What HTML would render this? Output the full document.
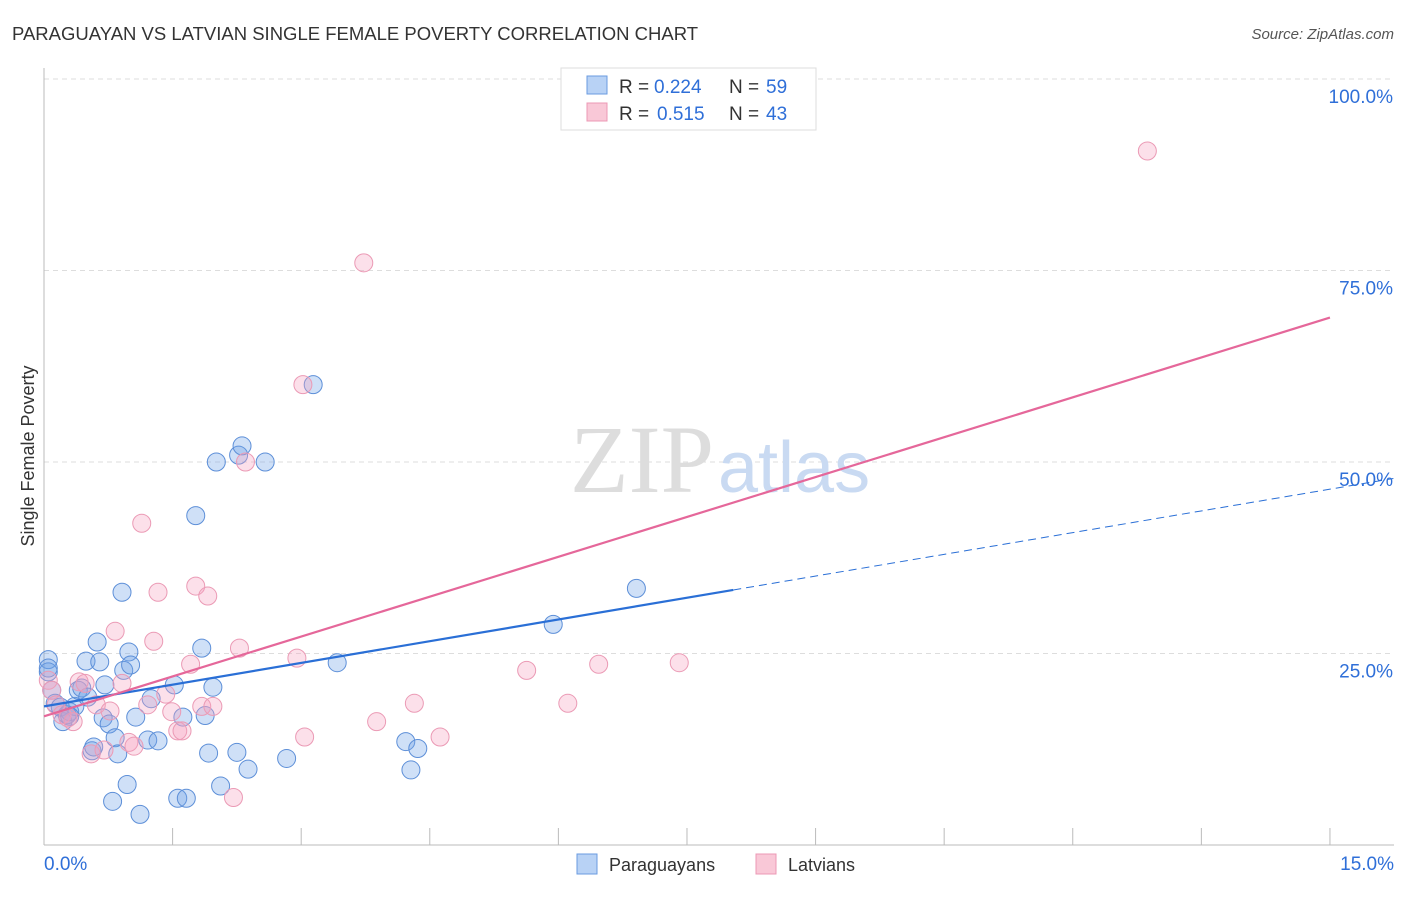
<!DOCTYPE html>
<html><head><meta charset="utf-8"><style>
body{margin:0;background:#fff;font-family:"Liberation Sans",sans-serif}
</style></head><body>
<svg width="1406" height="892" viewBox="0 0 1406 892" xmlns="http://www.w3.org/2000/svg">
<text x="12" y="40" font-size="18.5" fill="#333">PARAGUAYAN VS LATVIAN SINGLE FEMALE POVERTY CORRELATION CHART</text>
<text x="1394" y="39" font-size="15" fill="#555" text-anchor="end" font-style="italic">Source: ZipAtlas.com</text>
<g id="grid"></g>
<text x="714" y="492" font-size="96" fill="#ddd" text-anchor="end" font-family="Liberation Serif">ZIP</text>
<text x="718" y="492" font-size="72" fill="#c9daf2">atlas</text>
<g id="axes"></g>
<g id="marks"></g>
<text x="34" y="456" font-size="18" fill="#333" transform="rotate(-90 34 456)" text-anchor="middle">Single Female Poverty</text>
<g>
<rect x="561" y="68" width="255" height="62" fill="#fff" stroke="#ddd"/>
<rect x="587" y="76" width="20" height="18" fill="#b8d2f5" stroke="#6a9be0"/>
<rect x="587" y="103" width="20" height="18" fill="#f9c8d7" stroke="#ec98b4"/>
<text x="619" y="93" font-size="19" fill="#333">R =</text>
<text x="654" y="93" font-size="19" fill="#2f6fd8">0.224</text>
<text x="729" y="93" font-size="19" fill="#333">N =</text>
<text x="766" y="93" font-size="19" fill="#2f6fd8">59</text>
<text x="619" y="120" font-size="19" fill="#333">R =</text>
<text x="657" y="120" font-size="19" fill="#2f6fd8">0.515</text>
<text x="729" y="120" font-size="19" fill="#333">N =</text>
<text x="766" y="120" font-size="19" fill="#2f6fd8">43</text>
</g>
<g>
<rect x="577" y="854" width="20" height="20" fill="#b8d2f5" stroke="#6a9be0"/>
<text x="609" y="871" font-size="18" fill="#333">Paraguayans</text>
<rect x="756" y="854" width="20" height="20" fill="#f9c8d7" stroke="#ec98b4"/>
<text x="788" y="871" font-size="18" fill="#333">Latvians</text>
</g>
</svg>
<script>
const blueX=[0.05,0.05,0.09,0.13,0.19,0.22,0.27,0.3,0.36,0.4,0.44,0.49,0.51,0.56,0.58,0.62,0.65,0.69,0.71,0.76,0.8,0.83,0.86,0.91,0.93,0.97,0.99,1.01,1.07,1.12,1.21,1.25,1.33,1.52,1.56,1.62,1.66,1.77,1.84,1.88,1.92,1.97,2.01,2.06,2.25,2.27,2.31,2.38,2.58,2.83,3.14,3.42,4.22,4.28,4.36,5.94,6.91,0.05,0.3];
const blueY=[24.2,22.6,20.2,18.5,18.0,16.1,17.0,17.4,18.1,20.2,20.5,24.0,19.3,12.3,12.8,26.5,23.9,16.6,20.9,15.8,5.7,14.0,11.9,33.0,22.8,7.9,25.2,23.5,16.7,4.0,13.7,19.1,13.6,20.9,6.1,16.7,6.1,43.0,25.7,16.9,12.0,20.6,50.0,7.7,12.1,50.9,52.1,9.9,50.0,11.3,60.1,23.8,13.5,9.8,12.6,28.8,33.5,23.1,16.8];
const pinkX=[0.05,0.09,0.14,0.21,0.28,0.34,0.41,0.48,0.55,0.61,0.7,0.77,0.83,0.91,0.99,1.05,1.14,1.21,1.28,1.33,1.42,1.49,1.56,1.61,1.71,1.77,1.84,1.91,1.97,2.21,2.28,2.35,2.95,3.02,3.04,3.73,3.88,4.32,4.62,5.63,6.11,6.47,7.41,12.87];
const pinkY=[21.5,20.2,18.3,17.0,16.6,16.1,21.3,21.1,11.9,18.3,12.4,17.5,27.9,21.1,13.4,12.9,42.0,18.3,26.6,33.0,19.7,17.4,14.9,14.9,23.6,33.8,18.1,32.5,18.1,6.2,25.7,50.0,24.4,60.1,14.1,76.0,16.1,18.5,14.1,22.8,18.5,23.6,23.8,90.6];
const blueTrend=[18.1,1.89], pinkTrend=[16.8,3.47];
const xTicks=[0,1.5,3,4.5,6,7.5,9,10.5,12,13.5,15];
const yTicks=[25,50,75,100];
const NS='http://www.w3.org/2000/svg';
const sx=v=>44+v*85.73, sy=v=>845-v*7.66;
function mk(t,a,p){const e=document.createElementNS(NS,t);for(const k in a)e.setAttribute(k,a[k]);document.getElementById(p).appendChild(e);return e;}
yTicks.forEach(v=>{
 const l=mk('line',{x1:44,x2:1394,y1:sy(v),y2:sy(v),stroke:'#ddd','stroke-dasharray':'5,4'},'grid');
 
 
 const t=mk('text',{x:1393,y:sy(v)+24,'font-size':19,fill:'#2f6fd8','text-anchor':'end'},'grid');
 t.textContent=v.toFixed(1)+'%';
 
 
});
const ax=mk('line',{x1:44,x2:1394,y1:845,y2:845,stroke:'#bbb'},'axes');


const ay=mk('line',{x1:44,x2:44,y1:68,y2:845,stroke:'#bbb'},'axes');


xTicks.forEach((v,i)=>{if(i==0)return;
 const l=mk('line',{x1:sx(v),x2:sx(v),y1:828,y2:845,stroke:'#bbb'},'axes');
 
 
});
[[0,'start',44],[15,'end',1394]].forEach(([v,a,x])=>{
 const t=mk('text',{x:x,y:870,'font-size':19,fill:'#2f6fd8','text-anchor':a},'axes');
 t.textContent=v.toFixed(1)+'%';
 
 
});
blueX.forEach((x,i)=>{
 const c=mk('circle',{cx:sx(x),cy:sy(blueY[i]),r:9,fill:'rgba(110,160,230,0.33)',stroke:'#5d8fd8','stroke-width':1},'marks');
 
 
});
pinkX.forEach((x,i)=>{
 const c=mk('circle',{cx:sx(x),cy:sy(pinkY[i]),r:9,fill:'rgba(245,160,190,0.33)',stroke:'#eb9ab5','stroke-width':1},'marks');
 
 
});
const bl=mk('line',{x1:sx(0),y1:sy(blueTrend[0]),x2:sx(8.04),y2:sy(blueTrend[0]+blueTrend[1]*8.04),stroke:'#2a6fd6','stroke-width':2.2},'marks');


const bd=mk('line',{x1:sx(8.04),y1:sy(blueTrend[0]+blueTrend[1]*8.04),x2:sx(15.74),y2:sy(blueTrend[0]+blueTrend[1]*15.74),stroke:'#2a6fd6','stroke-width':1,'stroke-dasharray':'8,5'},'marks');


const pl=mk('line',{x1:sx(0),y1:sy(pinkTrend[0]),x2:sx(15),y2:sy(pinkTrend[0]+pinkTrend[1]*15),stroke:'#e5679a','stroke-width':2.2},'marks');


</script>
</body></html>
